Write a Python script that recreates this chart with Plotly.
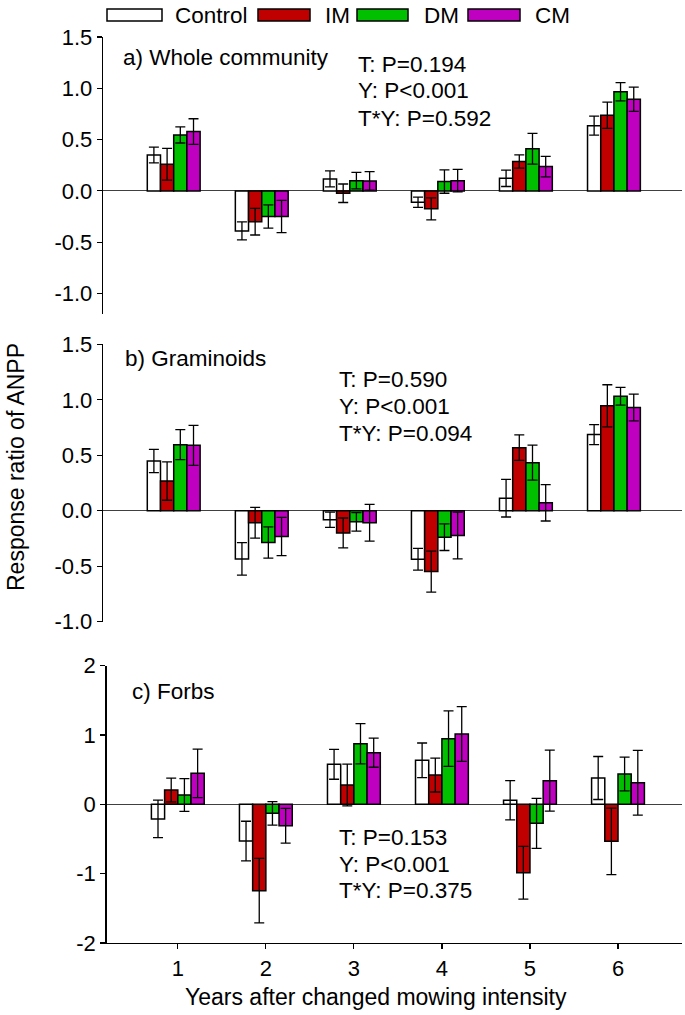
import plotly.graph_objects as go

# ---------------- data ----------------
years = [1, 2, 3, 4, 5, 6]
treatments = ["Control", "IM", "DM", "CM"]
colors = ["#FFFFFF", "#C00000", "#00C000", "#C000C0"]

# a) Whole community
a_control = [0.35, -0.39, 0.117, -0.11, 0.123, 0.636]
a_control_se = [0.077, 0.088, 0.078, 0.05, 0.08, 0.093]
a_im = [0.26, -0.30, -0.023, -0.175, 0.286, 0.737]
a_im_se = [0.155, 0.13, 0.09, 0.107, 0.065, 0.128]
a_dm = [0.545, -0.25, 0.10, 0.091, 0.41, 0.967]
a_dm_se = [0.078, 0.113, 0.08, 0.114, 0.15, 0.089]
a_cm = [0.578, -0.25, 0.097, 0.10, 0.237, 0.893]
a_cm_se = [0.125, 0.157, 0.09, 0.11, 0.10, 0.118]

# b) Graminoids
b_control = [0.449, -0.434, -0.081, -0.437, 0.114, 0.687]
b_control_se = [0.105, 0.146, 0.068, 0.098, 0.17, 0.09]
b_im = [0.268, -0.108, -0.20, -0.548, 0.569, 0.946]
b_im_se = [0.173, 0.138, 0.135, 0.185, 0.115, 0.19]
b_dm = [0.596, -0.286, -0.10, -0.238, 0.434, 1.033]
b_dm_se = [0.135, 0.14, 0.083, 0.12, 0.158, 0.08]
b_cm = [0.59, -0.232, -0.108, -0.223, 0.072, 0.931]
b_cm_se = [0.18, 0.173, 0.165, 0.21, 0.164, 0.12]

# c) Forbs
c_control = [-0.21, -0.529, 0.577, 0.635, 0.058, 0.38]
c_control_se = [0.27, 0.285, 0.215, 0.25, 0.283, 0.31]
c_im = [0.207, -1.245, 0.279, 0.423, -0.986, -0.534]
c_im_se = [0.17, 0.465, 0.30, 0.245, 0.38, 0.48]
c_dm = [0.135, -0.13, 0.875, 0.947, -0.274, 0.4375]
c_dm_se = [0.235, 0.17, 0.29, 0.40, 0.36, 0.243]
c_cm = [0.447, -0.308, 0.745, 1.014, 0.341, 0.3125]
c_cm_se = [0.35, 0.25, 0.21, 0.395, 0.44, 0.467]

panel_titles = ["a) Whole community", "b) Graminoids", "c) Forbs"]
panel_stats = [
    ["T: P=0.194", "Y: P<0.001", "T*Y: P=0.592"],
    ["T: P=0.590", "Y: P<0.001", "T*Y: P=0.094"],
    ["T: P=0.153", "Y: P<0.001", "T*Y: P=0.375"],
]
x_title = "Years after changed mowing intensity"
y_title = "Response ratio of ANPP"

ab_tickvals = [-1.0, -0.5, 0.0, 0.5, 1.0, 1.5]
ab_ticktext = ["-1.0", "-0.5", "0.0", "0.5", "1.0", "1.5"]
c_tickvals = [-2, -1, 0, 1, 2]
c_ticktext = ["-2", "-1", "0", "1", "2"]
x_ticktext = ["1", "2", "3", "4", "5", "6"]

panels = [
    [(a_control, a_control_se), (a_im, a_im_se), (a_dm, a_dm_se), (a_cm, a_cm_se)],
    [(b_control, b_control_se), (b_im, b_im_se), (b_dm, b_dm_se), (b_cm, b_cm_se)],
    [(c_control, c_control_se), (c_im, c_im_se), (c_dm, c_dm_se), (c_cm, c_cm_se)],
]

# ---------------- layout geometry (reference pixels) ----------------
W, H = 685, 1015
ML, MR, MT, MB = 103, 3, 37, 72
PW, PH = W - ML - MR, H - MT - MB


def px(x):
    return (x - ML) / PW


def py(y):
    return (H - MB - y) / PH


FONT = "Liberation Sans, Arial, sans-serif"

fig = go.Figure()
suffix = ["", "2", "3"]
for p, series in enumerate(panels):
    for t, (vals, se) in enumerate(series):
        fig.add_trace(go.Bar(
            x=years, y=vals, name=treatments[t],
            marker=dict(color=colors[t], line=dict(color="black", width=1.5)),
            error_y=dict(type="data", array=se, visible=True, color="black",
                         thickness=1.3, width=5),
            xaxis="x" + suffix[p], yaxis="y" + suffix[p],
            showlegend=False, offsetgroup=str(t),
        ))

yaxis_common = dict(
    showline=True, linecolor="black", linewidth=1.3, ticks="outside", ticklen=5,
    tickwidth=1.2, tickcolor="black", showgrid=False, zeroline=True,
    zerolinecolor="#404040", zerolinewidth=1.2,
    tickfont=dict(family=FONT, size=22, color="black"),
)
xaxis_hidden = dict(showline=False, showticklabels=False, ticks="", showgrid=False,
                    zeroline=False)

fig.update_layout(
    width=W, height=H,
    margin=dict(l=ML, r=MR, t=MT, b=MB, pad=0),
    paper_bgcolor="white", plot_bgcolor="white",
    barmode="group", bargap=0.4, bargroupgap=0,
    font=dict(family=FONT, color="black"),
    xaxis=dict(xaxis_hidden, domain=[0, 1], range=[0.197, 6.773], anchor="y"),
    xaxis2=dict(xaxis_hidden, domain=[0, 1], range=[0.197, 6.773], anchor="y2"),
    xaxis3=dict(domain=[3.5 / PW, 1], range=[0.19, 6.727], anchor="y3",
                showline=True, linecolor="black", linewidth=1.3, ticks="outside",
                ticklen=5, tickwidth=1.2, tickcolor="black", showgrid=False,
                zeroline=False, tickvals=years, ticktext=x_ticktext,
                tickfont=dict(family=FONT, size=22, color="black")),
    yaxis=dict(yaxis_common, domain=[py(314), 1], range=[-1.2, 1.5],
               tickvals=ab_tickvals, ticktext=ab_ticktext, anchor="x"),
    yaxis2=dict(yaxis_common, domain=[py(621.7), py(344.4)], range=[-1.0, 1.5],
                tickvals=ab_tickvals, ticktext=ab_ticktext, anchor="x2"),
    yaxis3=dict(yaxis_common, domain=[0, py(665.7)], range=[-2, 2],
                tickvals=c_tickvals, ticktext=c_ticktext, anchor="x3"),
)

ann = []
# panel titles
title_pos = [(121, 57), (123, 358), (130, 691)]
for (x, y), txt in zip(title_pos, panel_titles):
    ann.append(dict(x=px(x), y=py(y), xref="paper", yref="paper", text=txt,
                    showarrow=False, xanchor="left", yanchor="middle",
                    font=dict(family=FONT, size=22.5, color="black")))
# stats
stat_pos = [(356, [64, 91, 118]), (337, [379, 406, 433]), (337, [837, 864, 890])]
for (x, ys), lines in zip(stat_pos, panel_stats):
    for y, txt in zip(ys, lines):
        ann.append(dict(x=px(x), y=py(y), xref="paper", yref="paper", text=txt,
                        showarrow=False, xanchor="left", yanchor="middle",
                        font=dict(family=FONT, size=22.5, color="black")))
# axis titles
ann.append(dict(x=px(376), y=py(997), xref="paper", yref="paper", text=x_title,
                showarrow=False, xanchor="center", yanchor="middle",
                font=dict(family=FONT, size=23, color="black")))
ann.append(dict(x=px(16), y=py(467), xref="paper", yref="paper", text=y_title,
                showarrow=False, xanchor="center", yanchor="middle", textangle=-90,
                font=dict(family=FONT, size=23, color="black")))

# manual legend
shapes = []
leg_boxes = [(107, 162), (258, 310), (357, 408), (468, 520)]
leg_text_x = [173, 323, 422, 533]
for (x0, x1), tx, col, name in zip(leg_boxes, leg_text_x, colors, treatments):
    shapes.append(dict(type="rect", xref="paper", yref="paper",
                       x0=px(x0), x1=px(x1), y0=py(21), y1=py(9),
                       fillcolor=col, line=dict(color="black", width=1.5)))
    ann.append(dict(x=px(tx), y=py(15), xref="paper", yref="paper", text=name,
                    showarrow=False, xanchor="left", yanchor="middle",
                    font=dict(family=FONT, size=22.5, color="black")))

fig.update_layout(annotations=ann, shapes=shapes)
fig.write_html("out.html",
               config={"displayModeBar": False, "staticPlot": True},
               post_script="document.body.style.margin='0';"
                           "document.body.style.overflow='hidden';")
